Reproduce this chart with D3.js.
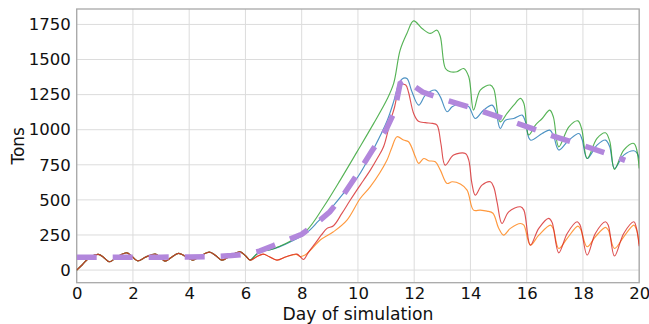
<!DOCTYPE html>
<html>
<head>
<meta charset="utf-8">
<script src="https://cdn.jsdelivr.net/npm/d3@7/dist/d3.min.js"></script>
<style>
  html, body { margin: 0; padding: 0; background: #fff; }
  svg { display: block; font-family: "DejaVu Sans", sans-serif; }
</style>
</head>
<body>
<svg id="chart" width="649" height="324"></svg>
<script>
// Daily cycle shared by all runs before the outbreak takes off: [day, tons]
const baseline = [
  [0, 0], [0.2, 38], [0.45, 88], [0.77, 112], [0.95, 92], [1.16, 59], [1.45, 95],
  [1.78, 123], [1.95, 100], [2.16, 66], [2.45, 92], [2.79, 114], [2.95, 95],
  [3.14, 64], [3.35, 88], [3.62, 119], [3.85, 100], [4.13, 71], [4.4, 100],
  [4.72, 128], [4.95, 102], [5.16, 71], [5.45, 100], [5.81, 130], [6.0, 102], [6.17, 71]
];

// Run 1 (blue)
const runBlue = [
  [6.35, 105], [6.52, 130], [6.88, 145], [7.2, 165], [7.59, 200], [8.19, 268],
  [8.6, 350], [9.0, 430], [9.5, 550], [10.0, 665], [10.56, 865], [11.03, 1060],
  [11.27, 1200], [11.45, 1325], [11.57, 1362], [11.74, 1365], [11.92, 1270],
  [12.16, 1175], [12.4, 1246], [12.75, 1282], [12.93, 1234], [13.17, 1128],
  [13.35, 1163], [13.7, 1187], [13.94, 1165], [14.17, 1080], [14.47, 1140],
  [14.77, 1175], [14.9, 1130], [15.06, 1009], [15.24, 1068], [15.54, 1080],
  [15.84, 1104], [15.95, 1060], [16.13, 926], [16.55, 973], [16.82, 997],
  [16.95, 960], [17.14, 855], [17.5, 926], [17.86, 973], [17.97, 930],
  [18.15, 795], [18.5, 890], [18.8, 926], [18.95, 880], [19.12, 724],
  [19.45, 819], [19.81, 850], [19.92, 835], [20, 795]
];

// Run 2 (orange)
const runOrange = [
  [6.4, 95], [6.63, 114], [6.85, 95], [7.12, 71], [7.45, 95], [7.8, 112],
  [7.95, 97], [8.12, 107], [8.4, 160], [8.66, 214], [9.13, 273], [9.61, 356],
  [10.08, 510], [10.44, 594], [11.03, 783], [11.2, 870], [11.39, 950],
  [11.62, 926], [11.8, 914], [12.04, 807], [12.16, 760], [12.34, 795],
  [12.51, 779], [12.75, 772], [12.93, 712], [13.17, 617], [13.35, 629],
  [13.64, 613], [13.88, 570], [14.11, 427], [14.35, 427], [14.59, 420],
  [14.8, 405], [15.0, 300], [15.18, 249], [15.42, 297], [15.78, 332],
  [15.9, 320], [16.13, 178], [16.43, 249], [16.85, 320], [16.95, 290],
  [17.14, 154], [17.44, 226], [17.82, 313], [17.92, 290], [18.15, 166],
  [18.44, 237], [18.8, 304], [18.9, 285], [19.12, 154], [19.45, 237],
  [19.81, 320], [19.9, 290], [20, 185]
];

// Run 3 (green)
const runGreen = [
  [6.35, 105], [6.52, 130], [6.88, 145], [7.2, 168], [7.59, 205], [8.19, 285],
  [8.78, 451], [9.37, 641], [9.96, 840], [10.56, 1045], [11.03, 1215],
  [11.27, 1330], [11.5, 1567], [11.74, 1686], [11.98, 1775], [12.28, 1721],
  [12.57, 1686], [12.81, 1709], [12.93, 1662], [13.11, 1436], [13.28, 1413],
  [13.52, 1413], [13.76, 1436], [13.94, 1377], [14.11, 1140], [14.35, 1282],
  [14.71, 1318], [14.83, 1290], [15.06, 1056], [15.3, 1116], [15.54, 1175],
  [15.78, 1223], [15.9, 1187], [16.07, 962], [16.31, 1033], [16.55, 1080],
  [16.82, 1140], [16.95, 1090], [17.14, 878], [17.5, 1021], [17.82, 1063],
  [17.95, 1010], [18.15, 795], [18.5, 938], [18.8, 978], [18.95, 920],
  [19.12, 717], [19.45, 855], [19.81, 902], [20, 724]
];

// Run 4 (red)
const runRed = [
  [6.4, 95], [6.63, 114], [6.85, 95], [7.12, 71], [7.45, 95], [7.83, 114],
  [7.95, 95], [8.06, 75], [8.25, 130], [8.48, 190], [8.7, 250], [8.9, 297],
  [9.13, 316], [9.43, 404], [9.7, 490], [9.96, 570], [10.2, 640], [10.44, 712],
  [10.7, 800], [10.91, 878], [11.15, 1060], [11.3, 1160], [11.45, 1290],
  [11.55, 1320], [11.7, 1318], [11.8, 1265], [11.98, 1116], [12.15, 1060],
  [12.4, 1050], [12.65, 1045], [12.81, 1033], [12.95, 900], [13.1, 748],
  [13.4, 819], [13.82, 831], [13.94, 783], [14.05, 620], [14.17, 534],
  [14.41, 605], [14.71, 629], [14.83, 590], [14.95, 480], [15.12, 332],
  [15.36, 415], [15.78, 451], [15.9, 427], [16.13, 178], [16.43, 297],
  [16.78, 368], [16.9, 340], [17.14, 123], [17.44, 261], [17.79, 344],
  [17.9, 320], [18.15, 107], [18.44, 261], [18.8, 344], [18.9, 320],
  [19.12, 100], [19.45, 261], [19.81, 344], [19.9, 300], [20, 170]
];

// Fitted trend (purple dashed)
const trend = [
  [0, 92], [1, 92], [2, 92], [3, 92], [4, 93], [5, 98], [5.5, 103], [6, 112],
  [6.5, 135], [7, 175], [7.5, 215], [8, 255], [8.5, 330], [9, 415], [9.5, 540],
  [10, 690], [10.5, 850], [11, 1000], [11.3, 1130], [11.5, 1330], [11.7, 1355],
  [12, 1310], [12.3, 1268], [13, 1220], [14, 1158], [15, 1092], [16, 1022],
  [17, 950], [18, 888], [19, 820], [19.5, 782]
];

const xTicks = [0, 2, 4, 6, 8, 10, 12, 14, 16, 18, 20];
const yTicks = [0, 250, 500, 750, 1000, 1250, 1500, 1750];

const seriesColors = { blue: "#1f77b4", orange: "#ff7f0e", green: "#2ca02c", red: "#d62728", trend: "#b287dc" };

const svg = d3.select("#chart");
const m = { left: 76.7, right: 639.2, top: 9, bottom: 282.7 };

const x = d3.scaleLinear().domain([0, 20]).range([m.left, m.right]);
const y = d3.scaleLinear().domain([-90, 1860]).range([m.bottom, m.top]);

// Grid
const grid = svg.append("g");
grid.selectAll("line.gx").data(xTicks).join("line")
  .attr("x1", d => x(d)).attr("x2", d => x(d))
  .attr("y1", m.top).attr("y2", m.bottom)
  .attr("stroke", "#dcdcdc").attr("stroke-width", 1);
grid.selectAll("line.gy").data(yTicks).join("line")
  .attr("x1", m.left).attr("x2", m.right)
  .attr("y1", d => y(d)).attr("y2", d => y(d))
  .attr("stroke", "#dcdcdc").attr("stroke-width", 1);

// Axes
const xAxis = svg.append("g")
  .attr("transform", `translate(0,${m.bottom})`)
  .call(d3.axisBottom(x).tickValues(xTicks).tickSize(0).tickPadding(4.5).tickFormat(d3.format("d")));
const yAxis = svg.append("g")
  .attr("transform", `translate(${m.left},0)`)
  .call(d3.axisLeft(y).tickValues(yTicks).tickSize(0).tickPadding(6).tickFormat(d3.format("d")));
[xAxis, yAxis].forEach(g => {
  g.select(".domain").remove();
  g.selectAll("text").attr("font-size", 16.5).attr("fill", "#111")
    .attr("font-family", "DejaVu Sans, sans-serif");
});

// Frame
svg.append("rect")
  .attr("x", m.left).attr("y", m.top)
  .attr("width", m.right - m.left).attr("height", m.bottom - m.top)
  .attr("fill", "none").attr("stroke", "#a8a8a8").attr("stroke-width", 1.3);

// Lines
svg.append("clipPath").attr("id", "plot-clip").append("rect")
  .attr("x", m.left).attr("y", m.top).attr("width", m.right - m.left).attr("height", m.bottom - m.top);

const smooth = d3.line().x(d => x(d[0])).y(d => y(d[1])).curve(d3.curveCatmullRom.alpha(0.5));
const straight = d3.line().x(d => x(d[0])).y(d => y(d[1]));

const plot = svg.append("g").attr("clip-path", "url(#plot-clip)");
const runs = [
  [runBlue, seriesColors.blue],
  [runOrange, seriesColors.orange],
  [runGreen, seriesColors.green],
  [runRed, seriesColors.red]
];
runs.forEach(([pts, color]) => {
  plot.append("path")
    .datum(baseline.concat(pts))
    .attr("d", smooth)
    .attr("fill", "none")
    .attr("stroke", color)
    .attr("stroke-opacity", 0.8)
    .attr("stroke-width", 1.15);
});

plot.append("path")
  .datum(trend)
  .attr("d", straight)
  .attr("fill", "none")
  .attr("stroke", seriesColors.trend)
  .attr("stroke-width", 5.5)
  .attr("stroke-dasharray", "20,16");

// Axis titles
svg.append("text")
  .attr("x", (m.left + m.right) / 2).attr("y", 319.5)
  .attr("text-anchor", "middle").attr("font-size", 17.2).attr("fill", "#111")
  .text("Day of simulation");
svg.append("text")
  .attr("transform", `translate(24,${(m.top + m.bottom) / 2}) rotate(-90)`)
  .attr("text-anchor", "middle").attr("font-size", 17).attr("fill", "#111")
  .text("Tons");
</script>
</body>
</html>
